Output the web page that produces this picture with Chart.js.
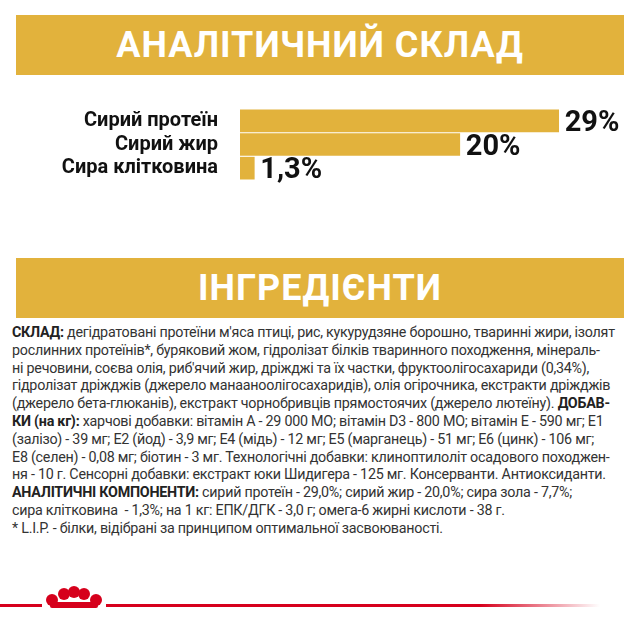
<!DOCTYPE html>
<html>
<head>
<meta charset="utf-8">
<script src="https://cdn.jsdelivr.net/npm/chart.js@4"></script>
<style>
  body { margin: 0; width: 640px; height: 640px; background: #fff; position: relative; overflow: hidden; font-family: Roboto, sans-serif; }
  .banner { position: absolute; left: 16px; width: 608px; height: 60px; background: #e2b23c; color: #fff;
    font: bold 36px Roboto, sans-serif; text-align: center; line-height: 60px; letter-spacing: 1px; }
  #chart { position: absolute; left: 0; top: 83px; }
  #text { position: absolute; left: 12px; top: 324px; font-size: 14.3px; line-height: 17.8px; color: #333; letter-spacing: -0.25px; }
  #text div { white-space: nowrap; }
  #text b { color: #222; }
  .rule { position: absolute; left: 0; top: 604px; width: 600px; height: 3px; background: linear-gradient(to right, #d6001c 80%, rgba(214,0,28,0)); }
  .logo { position: absolute; left: 42px; top: 586px; width: 64px; height: 26px; background: #fff; }
  .logo span { position: absolute; width: 12px; height: 12px; border-radius: 50%; background: #d6001c; }
</style>
</head>
<body>
<div class="banner" style="top:15px">АНАЛІТИЧНИЙ СКЛАД</div>
<canvas id="chart" width="640" height="123" style="width:640px;height:123px"></canvas>
<div class="banner" style="top:258px">ІНГРЕДІЄНТИ</div>
<div id="text">
<div><b>СКЛАД:</b> дегідратовані протеїни м'яса птиці, рис, кукурудзяне борошно, тваринні жири, ізолят</div>
<div>рослинних протеїнів*, буряковий жом, гідролізат білків тваринного походження, мінераль-</div>
<div>ні речовини, соєва олія, риб'ячий жир, дріжджі та їх частки, фруктоолігосахариди (0,34%),</div>
<div>гідролізат дріжджів (джерело манааноолігосахаридів), олія огірочника, екстракти дріжджів</div>
<div>(джерело бета-глюканів), екстракт чорнобривців прямостоячих (джерело лютеїну). <b>ДОБАВ-</b></div>
<div><b>КИ (на кг):</b> харчові добавки: вітамін А - 29 000 МО; вітамін D3 - 800 МО; вітамін Е - 590 мг; Е1</div>
<div>(залізо) - 39 мг; Е2 (йод) - 3,9 мг; Е4 (мідь) - 12 мг; Е5 (марганець) - 51 мг; Е6 (цинк) - 106 мг;</div>
<div>Е8 (селен) - 0,08 мг; біотин - 3 мг. Технологічні добавки: клиноптилоліт осадового походжен-</div>
<div>ня - 10 г. Сенсорні добавки: екстракт юки Шидигера - 125 мг. Консерванти. Антиоксиданти.</div>
<div><b>АНАЛІТИЧНІ КОМПОНЕНТИ:</b> сирий протеїн - 29,0%; сирий жир - 20,0%; сира зола - 7,7%;</div>
<div>сира клітковина &nbsp;- 1,3%; на 1 кг: ЕПК/ДГК - 3,0 г; омега-6 жирні кислоти - 38 г.</div>
<div>* L.I.P. - білки, відібрані за принципом оптимальної засвоюваності.</div>
</div>
<div class="rule"></div>
<div class="logo">
  <span style="left:4px;top:8px"></span><span style="left:16px;top:2px"></span><span style="left:26px;top:0px"></span>
  <span style="left:36px;top:2px"></span><span style="left:48px;top:8px"></span>
  <span style="left:8px;top:16px;width:48px;height:6px;border-radius:2px"></span>
</div>
<script>
const categories = ['Сирий протеїн', 'Сирий жир', 'Сира клітковина'];
const values = [29, 20, 1.3];
const valueLabels = ['29%', '20%', '1,3%'];

const valueLabelPlugin = {
    id: 'valueLabels',
    afterDatasetsDraw(chart) {
        const ctx = chart.ctx;
        ctx.save();
        ctx.font = 'bold 29px Roboto, sans-serif';
        ctx.fillStyle = '#111';
        ctx.textBaseline = 'middle';
        chart.getDatasetMeta(0).data.forEach((bar, i) => {
            ctx.fillText(valueLabels[i], bar.x + 6, bar.y + 3);
        });
        ctx.restore();
    }
};

new Chart(document.getElementById('chart'), {
    type: 'bar',
    data: {
        labels: categories,
        datasets: [{ data: values, backgroundColor: '#e2b23c', barThickness: 22 }]
    },
    options: {
        indexAxis: 'y',
        responsive: false,
        animation: false,
        layout: { padding: 0 },
        plugins: { legend: { display: false }, tooltip: { enabled: false } },
        scales: {
            x: { display: false, min: 0, max: 36.4 },
            y: {
                grid: { display: false },
                border: { display: false },
                afterFit(scale) { scale.width = 240; },
                ticks: { color: '#111', font: { size: 20, weight: 'bold', family: 'Roboto' }, padding: 14 }
            }
        }
    },
    plugins: [valueLabelPlugin]
});
</script>
</body>
</html>
